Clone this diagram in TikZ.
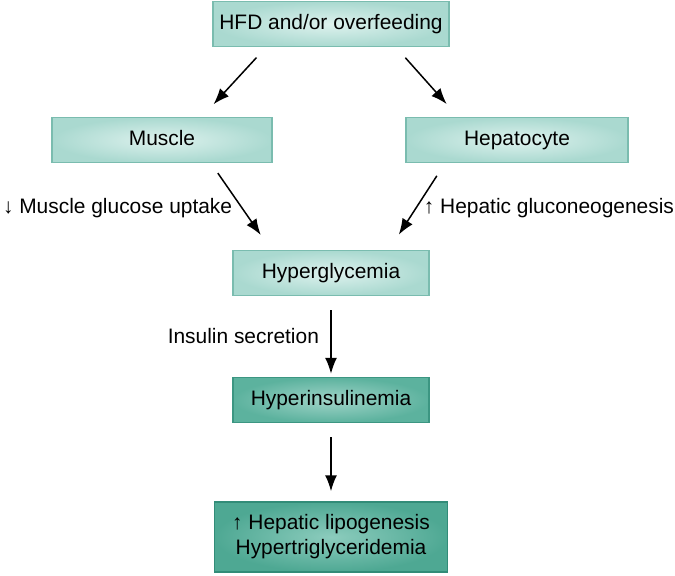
\documentclass[tikz,border=0pt]{standalone}
\usepackage{fontspec}
\setmainfont{Liberation Sans}
\usepackage{tikz}
\usetikzlibrary{arrows.meta}

\definecolor{paleIn}{RGB}{222,242,238}
\definecolor{paleOut}{RGB}{170,217,208}
\definecolor{paleLine}{RGB}{122,188,175}
\definecolor{tealIn}{RGB}{160,212,200}
\definecolor{tealOut}{RGB}{92,178,158}
\definecolor{tealLine}{RGB}{60,150,130}
\definecolor{deepIn}{RGB}{140,204,189}
\definecolor{deepOut}{RGB}{78,168,147}
\definecolor{deepLine}{RGB}{50,140,120}

\tikzset{
	box/.style={rectangle, inner sep=0pt, align=center, minimum height=45bp,
		text height=15bp, text depth=4bp},
	palebox/.style={box, draw=paleLine, inner color=paleIn, outer color=paleOut},
	tealbox/.style={box, draw=tealLine, inner color=tealIn, outer color=tealOut},
	deepbox/.style={box, draw=deepLine, inner color=deepIn, outer color=deepOut},
}

\begin{document}
\begin{tikzpicture}[>={Latex[length=16bp,width=12bp]}, line width=1.5bp,
	font=\fontsize{21}{25}\selectfont]
	\useasboundingbox (0bp,0bp) rectangle (675bp,-576bp);

	\node (hfd)    at (331bp,-24bp)  [palebox, minimum width=236bp] {HFD and/or overfeeding};
	\node (muscle) at (162bp,-140bp) [palebox, minimum width=220bp] {Muscle};
	\node (hepato) at (517bp,-140bp) [palebox, minimum width=222bp] {Hepatocyte};
	\node (glyc)   at (331bp,-273bp) [palebox, minimum width=196bp] {Hyperglycemia};
	\node (insul)  at (331bp,-400bp) [tealbox, minimum width=196bp] {Hyperinsulinemia};
	\node (lipo)   at (331bp,-537bp) [deepbox, minimum width=233bp, minimum height=70bp,
		text height=, text depth=] {↑ Hepatic lipogenesis\\Hypertriglyceridemia};

	\draw [->,shorten <=14bp,shorten >=17bp] ([xshift=-65bp]hfd.south) to ([xshift=40bp]muscle.north);
	\draw [->,shorten <=14bp,shorten >=17bp] ([xshift=65bp]hfd.south)  to ([xshift=-59bp]hepato.north);
	\draw [->,shorten <=12bp,shorten >=18bp] ([xshift=49bp]muscle.south) to
		node[pos=0.52, left=6bp] (down) {↓ Muscle glucose uptake} ([xshift=-60bp]glyc.north);
	\draw [->,shorten <=15bp,shorten >=18bp] ([xshift=-72bp]hepato.south) to
		node[pos=0.52, right=4bp] (up) {↑ Hepatic gluconeogenesis} ([xshift=58bp]glyc.north);
	\draw [->,shorten <=14bp,shorten >=3bp]  (glyc) to node[pos=0.5, left=8bp] (sec) {Insulin secretion} (insul);
	\draw [->,shorten <=14bp,shorten >=10bp] (insul) to (lipo);
\end{tikzpicture}
\end{document}
